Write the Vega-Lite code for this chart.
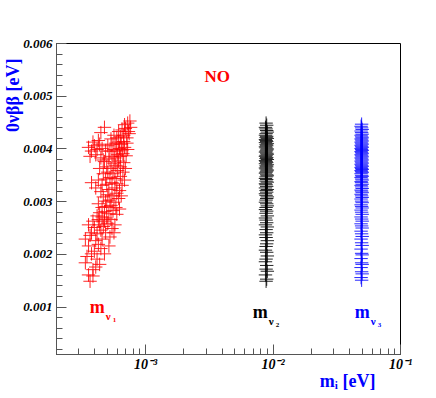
{
  "$schema": "https://vega.github.io/schema/vega-lite/v6.json",
  "autosize": {"type": "none"},
  "width": 344,
  "height": 311,
  "padding": {"left": 56, "top": 43, "right": 36, "bottom": 44},
  "background": "white",
  "config": {"view": {"stroke": "black", "strokeWidth": 1}, "font": "Liberation Serif"},
  "datasets": {
    "points": [
      {"nu":"ν1","m":0.00034,"mbb":0.00183},{"nu":"ν1","m":0.00037,"mbb":0.00148},{"nu":"ν1","m":0.00036,"mbb":0.00160},{"nu":"ν1","m":0.00039,"mbb":0.00170},{"nu":"ν1","m":0.00041,"mbb":0.00175},{"nu":"ν1","m":0.00035,"mbb":0.00195},{"nu":"ν1","m":0.00038,"mbb":0.00200},{"nu":"ν1","m":0.00042,"mbb":0.00190},{"nu":"ν1","m":0.00044,"mbb":0.00180},{"nu":"ν1","m":0.00039,"mbb":0.00158},
      {"nu":"ν1","m":0.00040,"mbb":0.00205},{"nu":"ν1","m":0.00045,"mbb":0.00210},{"nu":"ν1","m":0.00036,"mbb":0.00215},{"nu":"ν1","m":0.00043,"mbb":0.00218},{"nu":"ν1","m":0.00048,"mbb":0.00200},{"nu":"ν1","m":0.00041,"mbb":0.00225},{"nu":"ν1","m":0.00034,"mbb":0.00228},{"nu":"ν1","m":0.00046,"mbb":0.00228},{"nu":"ν1","m":0.00052,"mbb":0.00215},{"nu":"ν1","m":0.00037,"mbb":0.00235},
      {"nu":"ν1","m":0.00038,"mbb":0.00240},{"nu":"ν1","m":0.00042,"mbb":0.00238},{"nu":"ν1","m":0.00045,"mbb":0.00245},{"nu":"ν1","m":0.00049,"mbb":0.00240},{"nu":"ν1","m":0.00053,"mbb":0.00232},{"nu":"ν1","m":0.00040,"mbb":0.00250},{"nu":"ν1","m":0.00044,"mbb":0.00255},{"nu":"ν1","m":0.00047,"mbb":0.00252},{"nu":"ν1","m":0.00055,"mbb":0.00248},{"nu":"ν1","m":0.00039,"mbb":0.00262},
      {"nu":"ν1","m":0.00043,"mbb":0.00265},{"nu":"ν1","m":0.00048,"mbb":0.00262},{"nu":"ν1","m":0.00051,"mbb":0.00258},{"nu":"ν1","m":0.00058,"mbb":0.00255},{"nu":"ν1","m":0.00046,"mbb":0.00270},{"nu":"ν1","m":0.00042,"mbb":0.00272},{"nu":"ν1","m":0.00050,"mbb":0.00268},{"nu":"ν1","m":0.00054,"mbb":0.00265},{"nu":"ν1","m":0.00036,"mbb":0.00255},{"nu":"ν1","m":0.00057,"mbb":0.00240},
      {"nu":"ν1","m":0.00044,"mbb":0.00278},{"nu":"ν1","m":0.00048,"mbb":0.00280},{"nu":"ν1","m":0.00052,"mbb":0.00276},{"nu":"ν1","m":0.00056,"mbb":0.00282},{"nu":"ν1","m":0.00060,"mbb":0.00275},{"nu":"ν1","m":0.00046,"mbb":0.00288},{"nu":"ν1","m":0.00050,"mbb":0.00290},{"nu":"ν1","m":0.00054,"mbb":0.00292},{"nu":"ν1","m":0.00059,"mbb":0.00288},{"nu":"ν1","m":0.00063,"mbb":0.00285},
      {"nu":"ν1","m":0.00043,"mbb":0.00295},{"nu":"ν1","m":0.00049,"mbb":0.00300},{"nu":"ν1","m":0.00053,"mbb":0.00302},{"nu":"ν1","m":0.00057,"mbb":0.00298},{"nu":"ν1","m":0.00062,"mbb":0.00305},{"nu":"ν1","m":0.00047,"mbb":0.00308},{"nu":"ν1","m":0.00051,"mbb":0.00312},{"nu":"ν1","m":0.00055,"mbb":0.00310},{"nu":"ν1","m":0.00060,"mbb":0.00315},{"nu":"ν1","m":0.00065,"mbb":0.00310},
      {"nu":"ν1","m":0.00045,"mbb":0.00318},{"nu":"ν1","m":0.00052,"mbb":0.00322},{"nu":"ν1","m":0.00058,"mbb":0.00325},{"nu":"ν1","m":0.00063,"mbb":0.00320},{"nu":"ν1","m":0.00041,"mbb":0.00325},{"nu":"ν1","m":0.00046,"mbb":0.00330},{"nu":"ν1","m":0.00050,"mbb":0.00332},{"nu":"ν1","m":0.00055,"mbb":0.00335},{"nu":"ν1","m":0.00060,"mbb":0.00333},{"nu":"ν1","m":0.00066,"mbb":0.00330},
      {"nu":"ν1","m":0.00043,"mbb":0.00340},{"nu":"ν1","m":0.00049,"mbb":0.00342},{"nu":"ν1","m":0.00053,"mbb":0.00345},{"nu":"ν1","m":0.00058,"mbb":0.00343},{"nu":"ν1","m":0.00064,"mbb":0.00347},{"nu":"ν1","m":0.00069,"mbb":0.00340},{"nu":"ν1","m":0.00047,"mbb":0.00352},{"nu":"ν1","m":0.00051,"mbb":0.00355},{"nu":"ν1","m":0.00056,"mbb":0.00352},{"nu":"ν1","m":0.00061,"mbb":0.00358},
      {"nu":"ν1","m":0.00067,"mbb":0.00355},{"nu":"ν1","m":0.00044,"mbb":0.00362},{"nu":"ν1","m":0.00050,"mbb":0.00365},{"nu":"ν1","m":0.00054,"mbb":0.00362},{"nu":"ν1","m":0.00059,"mbb":0.00368},{"nu":"ν1","m":0.00064,"mbb":0.00365},{"nu":"ν1","m":0.00070,"mbb":0.00362},{"nu":"ν1","m":0.00048,"mbb":0.00375},{"nu":"ν1","m":0.00057,"mbb":0.00372},{"nu":"ν1","m":0.00062,"mbb":0.00376},
      {"nu":"ν1","m":0.00068,"mbb":0.00373},{"nu":"ν1","m":0.00038,"mbb":0.00335},{"nu":"ν1","m":0.00036,"mbb":0.00402},{"nu":"ν1","m":0.00038,"mbb":0.00395},{"nu":"ν1","m":0.00040,"mbb":0.00405},{"nu":"ν1","m":0.00042,"mbb":0.00398},{"nu":"ν1","m":0.00044,"mbb":0.00408},{"nu":"ν1","m":0.00046,"mbb":0.00400},{"nu":"ν1","m":0.00049,"mbb":0.00395},{"nu":"ν1","m":0.00037,"mbb":0.00385},
      {"nu":"ν1","m":0.00041,"mbb":0.00388},{"nu":"ν1","m":0.00045,"mbb":0.00382},{"nu":"ν1","m":0.00039,"mbb":0.00412},{"nu":"ν1","m":0.00043,"mbb":0.00415},{"nu":"ν1","m":0.00052,"mbb":0.00380},{"nu":"ν1","m":0.00055,"mbb":0.00385},{"nu":"ν1","m":0.00058,"mbb":0.00382},{"nu":"ν1","m":0.00061,"mbb":0.00388},{"nu":"ν1","m":0.00064,"mbb":0.00385},{"nu":"ν1","m":0.00067,"mbb":0.00390},
      {"nu":"ν1","m":0.00071,"mbb":0.00386},{"nu":"ν1","m":0.00053,"mbb":0.00395},{"nu":"ν1","m":0.00057,"mbb":0.00398},{"nu":"ν1","m":0.00060,"mbb":0.00395},{"nu":"ν1","m":0.00063,"mbb":0.00400},{"nu":"ν1","m":0.00066,"mbb":0.00397},{"nu":"ν1","m":0.00069,"mbb":0.00402},{"nu":"ν1","m":0.00073,"mbb":0.00398},{"nu":"ν1","m":0.00055,"mbb":0.00408},{"nu":"ν1","m":0.00059,"mbb":0.00410},
      {"nu":"ν1","m":0.00062,"mbb":0.00412},{"nu":"ν1","m":0.00065,"mbb":0.00408},{"nu":"ν1","m":0.00068,"mbb":0.00413},{"nu":"ν1","m":0.00072,"mbb":0.00410},{"nu":"ν1","m":0.00051,"mbb":0.00405},{"nu":"ν1","m":0.00047,"mbb":0.00378},{"nu":"ν1","m":0.00060,"mbb":0.00420},{"nu":"ν1","m":0.00064,"mbb":0.00422},{"nu":"ν1","m":0.00068,"mbb":0.00425},{"nu":"ν1","m":0.00072,"mbb":0.00420},
      {"nu":"ν1","m":0.00075,"mbb":0.00428},{"nu":"ν1","m":0.00062,"mbb":0.00432},{"nu":"ν1","m":0.00066,"mbb":0.00435},{"nu":"ν1","m":0.00070,"mbb":0.00438},{"nu":"ν1","m":0.00074,"mbb":0.00432},{"nu":"ν1","m":0.00077,"mbb":0.00440},{"nu":"ν1","m":0.00069,"mbb":0.00445},{"nu":"ν1","m":0.00073,"mbb":0.00448},{"nu":"ν1","m":0.00076,"mbb":0.00452},{"nu":"ν1","m":0.00057,"mbb":0.00425},
      {"nu":"ν1","m":0.00054,"mbb":0.00418},{"nu":"ν1","m":0.00048,"mbb":0.00440},{"nu":"ν1","m":0.00045,"mbb":0.00430},

      {"nu":"ν2","m":0.0089,"mbb":0.00148},{"nu":"ν2","m":0.0090,"mbb":0.00152},{"nu":"ν2","m":0.0088,"mbb":0.00160},{"nu":"ν2","m":0.0091,"mbb":0.00167},{"nu":"ν2","m":0.0089,"mbb":0.00171},{"nu":"ν2","m":0.0090,"mbb":0.00178},{"nu":"ν2","m":0.0088,"mbb":0.00185},{"nu":"ν2","m":0.0089,"mbb":0.00190},{"nu":"ν2","m":0.0091,"mbb":0.00196},{"nu":"ν2","m":0.0090,"mbb":0.00203},
      {"nu":"ν2","m":0.0088,"mbb":0.00207},{"nu":"ν2","m":0.0089,"mbb":0.00214},{"nu":"ν2","m":0.0090,"mbb":0.00219},{"nu":"ν2","m":0.0091,"mbb":0.00225},{"nu":"ν2","m":0.0089,"mbb":0.00231},{"nu":"ν2","m":0.0088,"mbb":0.00236},{"nu":"ν2","m":0.0090,"mbb":0.00240},{"nu":"ν2","m":0.0089,"mbb":0.00246},{"nu":"ν2","m":0.0091,"mbb":0.00251},{"nu":"ν2","m":0.0088,"mbb":0.00255},
      {"nu":"ν2","m":0.0090,"mbb":0.00259},{"nu":"ν2","m":0.0089,"mbb":0.00264},{"nu":"ν2","m":0.0088,"mbb":0.00268},{"nu":"ν2","m":0.0091,"mbb":0.00272},{"nu":"ν2","m":0.0089,"mbb":0.00277},{"nu":"ν2","m":0.0090,"mbb":0.00281},{"nu":"ν2","m":0.0088,"mbb":0.00284},{"nu":"ν2","m":0.0089,"mbb":0.00288},{"nu":"ν2","m":0.0091,"mbb":0.00291},{"nu":"ν2","m":0.0090,"mbb":0.00295},
      {"nu":"ν2","m":0.0088,"mbb":0.00298},{"nu":"ν2","m":0.0089,"mbb":0.00302},{"nu":"ν2","m":0.0090,"mbb":0.00305},{"nu":"ν2","m":0.0091,"mbb":0.00308},{"nu":"ν2","m":0.0089,"mbb":0.00311},{"nu":"ν2","m":0.0088,"mbb":0.00314},{"nu":"ν2","m":0.0090,"mbb":0.00317},{"nu":"ν2","m":0.0089,"mbb":0.00320},{"nu":"ν2","m":0.0091,"mbb":0.00322},{"nu":"ν2","m":0.0088,"mbb":0.00325},
      {"nu":"ν2","m":0.0090,"mbb":0.00328},{"nu":"ν2","m":0.0089,"mbb":0.00331},{"nu":"ν2","m":0.0088,"mbb":0.00333},{"nu":"ν2","m":0.0091,"mbb":0.00336},{"nu":"ν2","m":0.0089,"mbb":0.00338},{"nu":"ν2","m":0.0090,"mbb":0.00341},{"nu":"ν2","m":0.0088,"mbb":0.00343},{"nu":"ν2","m":0.0089,"mbb":0.00346},{"nu":"ν2","m":0.0091,"mbb":0.00348},{"nu":"ν2","m":0.0090,"mbb":0.00350},
      {"nu":"ν2","m":0.0088,"mbb":0.00353},{"nu":"ν2","m":0.0089,"mbb":0.00355},{"nu":"ν2","m":0.0090,"mbb":0.00357},{"nu":"ν2","m":0.0091,"mbb":0.00359},{"nu":"ν2","m":0.0089,"mbb":0.00361},{"nu":"ν2","m":0.0088,"mbb":0.00363},{"nu":"ν2","m":0.0090,"mbb":0.00365},{"nu":"ν2","m":0.0089,"mbb":0.00367},{"nu":"ν2","m":0.0091,"mbb":0.00369},{"nu":"ν2","m":0.0088,"mbb":0.00371},
      {"nu":"ν2","m":0.0090,"mbb":0.00373},{"nu":"ν2","m":0.0089,"mbb":0.00375},{"nu":"ν2","m":0.0088,"mbb":0.00377},{"nu":"ν2","m":0.0091,"mbb":0.00379},{"nu":"ν2","m":0.0089,"mbb":0.00381},{"nu":"ν2","m":0.0090,"mbb":0.00383},{"nu":"ν2","m":0.0088,"mbb":0.00385},{"nu":"ν2","m":0.0089,"mbb":0.00387},{"nu":"ν2","m":0.0091,"mbb":0.00389},{"nu":"ν2","m":0.0090,"mbb":0.00391},
      {"nu":"ν2","m":0.0088,"mbb":0.00393},{"nu":"ν2","m":0.0089,"mbb":0.00395},{"nu":"ν2","m":0.0090,"mbb":0.00397},{"nu":"ν2","m":0.0091,"mbb":0.00399},{"nu":"ν2","m":0.0089,"mbb":0.00401},{"nu":"ν2","m":0.0088,"mbb":0.00403},{"nu":"ν2","m":0.0090,"mbb":0.00405},{"nu":"ν2","m":0.0089,"mbb":0.00407},{"nu":"ν2","m":0.0091,"mbb":0.00409},{"nu":"ν2","m":0.0088,"mbb":0.00411},
      {"nu":"ν2","m":0.0090,"mbb":0.00413},{"nu":"ν2","m":0.0089,"mbb":0.00415},{"nu":"ν2","m":0.0088,"mbb":0.00417},{"nu":"ν2","m":0.0091,"mbb":0.00419},{"nu":"ν2","m":0.0089,"mbb":0.00421},{"nu":"ν2","m":0.0090,"mbb":0.00423},{"nu":"ν2","m":0.0088,"mbb":0.00425},{"nu":"ν2","m":0.0089,"mbb":0.00428},{"nu":"ν2","m":0.0091,"mbb":0.00431},{"nu":"ν2","m":0.0090,"mbb":0.00434},
      {"nu":"ν2","m":0.0089,"mbb":0.00437},{"nu":"ν2","m":0.0088,"mbb":0.00440},{"nu":"ν2","m":0.0090,"mbb":0.00444},{"nu":"ν2","m":0.0089,"mbb":0.00448},

      {"nu":"ν3","m":0.0500,"mbb":0.00150},{"nu":"ν3","m":0.0495,"mbb":0.00155},{"nu":"ν3","m":0.0505,"mbb":0.00162},{"nu":"ν3","m":0.0500,"mbb":0.00166},{"nu":"ν3","m":0.0495,"mbb":0.00174},{"nu":"ν3","m":0.0505,"mbb":0.00180},{"nu":"ν3","m":0.0500,"mbb":0.00183},{"nu":"ν3","m":0.0495,"mbb":0.00191},{"nu":"ν3","m":0.0505,"mbb":0.00198},{"nu":"ν3","m":0.0500,"mbb":0.00201},
      {"nu":"ν3","m":0.0495,"mbb":0.00209},{"nu":"ν3","m":0.0505,"mbb":0.00216},{"nu":"ν3","m":0.0500,"mbb":0.00221},{"nu":"ν3","m":0.0495,"mbb":0.00228},{"nu":"ν3","m":0.0505,"mbb":0.00233},{"nu":"ν3","m":0.0500,"mbb":0.00238},{"nu":"ν3","m":0.0495,"mbb":0.00243},{"nu":"ν3","m":0.0505,"mbb":0.00249},{"nu":"ν3","m":0.0500,"mbb":0.00253},{"nu":"ν3","m":0.0495,"mbb":0.00257},
      {"nu":"ν3","m":0.0505,"mbb":0.00262},{"nu":"ν3","m":0.0500,"mbb":0.00266},{"nu":"ν3","m":0.0495,"mbb":0.00270},{"nu":"ν3","m":0.0505,"mbb":0.00275},{"nu":"ν3","m":0.0500,"mbb":0.00279},{"nu":"ν3","m":0.0495,"mbb":0.00283},{"nu":"ν3","m":0.0505,"mbb":0.00287},{"nu":"ν3","m":0.0500,"mbb":0.00290},{"nu":"ν3","m":0.0495,"mbb":0.00293},{"nu":"ν3","m":0.0505,"mbb":0.00297},
      {"nu":"ν3","m":0.0500,"mbb":0.00300},{"nu":"ν3","m":0.0495,"mbb":0.00304},{"nu":"ν3","m":0.0505,"mbb":0.00307},{"nu":"ν3","m":0.0500,"mbb":0.00310},{"nu":"ν3","m":0.0495,"mbb":0.00313},{"nu":"ν3","m":0.0505,"mbb":0.00316},{"nu":"ν3","m":0.0500,"mbb":0.00319},{"nu":"ν3","m":0.0495,"mbb":0.00321},{"nu":"ν3","m":0.0505,"mbb":0.00324},{"nu":"ν3","m":0.0500,"mbb":0.00327},
      {"nu":"ν3","m":0.0495,"mbb":0.00330},{"nu":"ν3","m":0.0505,"mbb":0.00332},{"nu":"ν3","m":0.0500,"mbb":0.00335},{"nu":"ν3","m":0.0495,"mbb":0.00337},{"nu":"ν3","m":0.0505,"mbb":0.00340},{"nu":"ν3","m":0.0500,"mbb":0.00342},{"nu":"ν3","m":0.0495,"mbb":0.00345},{"nu":"ν3","m":0.0505,"mbb":0.00347},{"nu":"ν3","m":0.0500,"mbb":0.00349},{"nu":"ν3","m":0.0495,"mbb":0.00352},
      {"nu":"ν3","m":0.0505,"mbb":0.00354},{"nu":"ν3","m":0.0500,"mbb":0.00356},{"nu":"ν3","m":0.0495,"mbb":0.00358},{"nu":"ν3","m":0.0505,"mbb":0.00360},{"nu":"ν3","m":0.0500,"mbb":0.00362},{"nu":"ν3","m":0.0495,"mbb":0.00364},{"nu":"ν3","m":0.0505,"mbb":0.00366},{"nu":"ν3","m":0.0500,"mbb":0.00368},{"nu":"ν3","m":0.0495,"mbb":0.00370},{"nu":"ν3","m":0.0505,"mbb":0.00372},
      {"nu":"ν3","m":0.0500,"mbb":0.00374},{"nu":"ν3","m":0.0495,"mbb":0.00376},{"nu":"ν3","m":0.0505,"mbb":0.00378},{"nu":"ν3","m":0.0500,"mbb":0.00380},{"nu":"ν3","m":0.0495,"mbb":0.00382},{"nu":"ν3","m":0.0505,"mbb":0.00384},{"nu":"ν3","m":0.0500,"mbb":0.00386},{"nu":"ν3","m":0.0495,"mbb":0.00388},{"nu":"ν3","m":0.0505,"mbb":0.00390},{"nu":"ν3","m":0.0500,"mbb":0.00392},
      {"nu":"ν3","m":0.0495,"mbb":0.00394},{"nu":"ν3","m":0.0505,"mbb":0.00396},{"nu":"ν3","m":0.0500,"mbb":0.00398},{"nu":"ν3","m":0.0495,"mbb":0.00400},{"nu":"ν3","m":0.0505,"mbb":0.00402},{"nu":"ν3","m":0.0500,"mbb":0.00404},{"nu":"ν3","m":0.0495,"mbb":0.00406},{"nu":"ν3","m":0.0505,"mbb":0.00408},{"nu":"ν3","m":0.0500,"mbb":0.00410},{"nu":"ν3","m":0.0495,"mbb":0.00412},
      {"nu":"ν3","m":0.0505,"mbb":0.00414},{"nu":"ν3","m":0.0500,"mbb":0.00416},{"nu":"ν3","m":0.0495,"mbb":0.00418},{"nu":"ν3","m":0.0505,"mbb":0.00420},{"nu":"ν3","m":0.0500,"mbb":0.00422},{"nu":"ν3","m":0.0495,"mbb":0.00425},{"nu":"ν3","m":0.0505,"mbb":0.00427},{"nu":"ν3","m":0.0500,"mbb":0.00430},{"nu":"ν3","m":0.0495,"mbb":0.00433},{"nu":"ν3","m":0.0505,"mbb":0.00436},
      {"nu":"ν3","m":0.0500,"mbb":0.00439},{"nu":"ν3","m":0.0495,"mbb":0.00442},{"nu":"ν3","m":0.0500,"mbb":0.00446}
    ],
    "labels": [
      {"nu":"ν1","m":0.000368,"mbb":0.000877,"sub":"1"},
      {"nu":"ν2","m":0.0070,"mbb":0.000782,"sub":"2"},
      {"nu":"ν3","m":0.0442,"mbb":0.000782,"sub":"3"}
    ],
    "note": [
      {"text":"NO","m":0.00368,"mbb":0.00526}
    ]
  },
  "resolve": {"axis": {"x": "independent", "y": "independent"}},
  "layer": [
    {
      "data": {"name": "points"},
      "mark": {"type": "point", "shape": "M-1,0H1M0,-1V1", "filled": false, "strokeWidth": 1, "size": 180, "opacity": 0.85},
      "encoding": {
        "x": {"field": "m", "type": "quantitative",
          "scale": {"type": "log", "domain": [0.0002, 0.1], "nice": false},
          "axis": {"orient": "bottom", "values": [0.001, 0.01, 0.1],
            "labelExpr": "datum.value < 0.005 ? '10⁻³' : datum.value < 0.05 ? '10⁻²' : '10⁻¹'",
            "tickSize": -10, "tickColor": "#555", "domainColor": "#555", "grid": false,
            "labelFont": "Liberation Serif", "labelFontSize": 14, "labelFontWeight": "bold", "labelFontStyle": "italic",
            "labelColor": "black", "labelPadding": 13, "labelFlush": false, "labelOverlap": false,
            "title": "mᵢ [eV]", "titleFont": "Liberation Serif", "titleFontSize": 18, "titleFontWeight": "bold",
            "titleColor": "#0000ff", "titleAlign": "right", "titleAnchor": "end", "titleX": 319, "titleY": 32, "titleBaseline": "alphabetic"}},
        "y": {"field": "mbb", "type": "quantitative",
          "scale": {"domain": [0.0001, 0.006], "nice": false, "zero": false},
          "axis": {"orient": "left", "values": [0.001, 0.002, 0.003, 0.004, 0.005, 0.006], "format": ".3f",
            "tickSize": -10, "tickColor": "#555", "domainColor": "#555", "grid": false,
            "labelFont": "Liberation Serif", "labelFontSize": 13, "labelFontWeight": "bold", "labelFontStyle": "italic",
            "labelColor": "black", "labelPadding": 14, "labelFlush": false, "labelOverlap": false,
            "title": "0νββ [eV]", "titleFont": "Liberation Serif", "titleFontSize": 18, "titleFontWeight": "bold",
            "titleColor": "#0000ff", "titleAngle": 270, "titleAlign": "right", "titleX": -38, "titleY": 15, "titleBaseline": "alphabetic"}},
        "color": {"field": "nu", "type": "nominal",
          "scale": {"domain": ["ν1", "ν2", "ν3"], "range": ["#ff0000", "#000000", "#0000ff"]}, "legend": null}
      }
    },
    {
      "data": {"name": "note"},
      "mark": {"type": "text", "color": "#ff0000", "font": "Liberation Serif", "fontSize": 17, "fontWeight": "bold", "align": "center", "baseline": "alphabetic"},
      "encoding": {
        "text": {"field": "text"},
        "x": {"field": "m", "type": "quantitative",
          "axis": {"orient": "bottom", "values": [0.0003,0.0004,0.0005,0.0006,0.0007,0.0008,0.0009,0.002,0.003,0.004,0.005,0.006,0.007,0.008,0.009,0.02,0.03,0.04,0.05,0.06,0.07,0.08,0.09],
            "labels": false, "domain": false, "grid": false, "tickSize": -6, "tickColor": "#555", "title": null}},
        "y": {"field": "mbb", "type": "quantitative",
          "axis": {"orient": "left", "values": [0.0002,0.0004,0.0006,0.0008,0.0012,0.0014,0.0016,0.0018,0.0022,0.0024,0.0026,0.0028,0.0032,0.0034,0.0036,0.0038,0.0042,0.0044,0.0046,0.0048,0.0052,0.0054,0.0056,0.0058],
            "labels": false, "domain": false, "grid": false, "tickSize": -6, "tickColor": "#555", "title": null}}
      }
    },
    {
      "data": {"name": "labels"},
      "mark": {"type": "text", "text": "m", "font": "Liberation Serif", "fontSize": 18, "fontWeight": "bold", "align": "left", "baseline": "alphabetic"},
      "encoding": {
        "x": {"field": "m", "type": "quantitative", "axis": null},
        "y": {"field": "mbb", "type": "quantitative", "axis": null},
        "color": {"field": "nu", "type": "nominal", "legend": null}
      }
    },
    {
      "data": {"name": "labels"},
      "mark": {"type": "text", "text": "ν", "font": "Liberation Serif", "fontSize": 11, "fontWeight": "bold", "align": "left", "baseline": "alphabetic", "dx": 16, "dy": 7},
      "encoding": {
        "x": {"field": "m", "type": "quantitative", "axis": null},
        "y": {"field": "mbb", "type": "quantitative", "axis": null},
        "color": {"field": "nu", "type": "nominal", "legend": null}
      }
    },
    {
      "data": {"name": "labels"},
      "mark": {"type": "text", "font": "Liberation Serif", "fontSize": 7, "fontWeight": "bold", "align": "left", "baseline": "alphabetic", "dx": 23, "dy": 9},
      "encoding": {
        "text": {"field": "sub"},
        "x": {"field": "m", "type": "quantitative", "axis": null},
        "y": {"field": "mbb", "type": "quantitative", "axis": null},
        "color": {"field": "nu", "type": "nominal", "legend": null}
      }
    }
  ]
}
